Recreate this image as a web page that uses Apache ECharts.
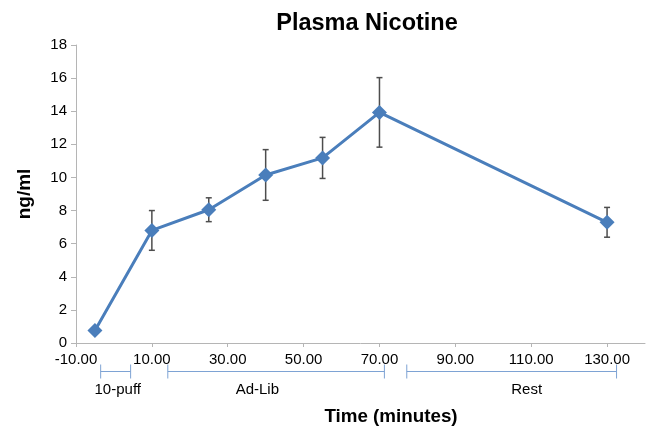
<!DOCTYPE html>
<html>
<head>
<meta charset="utf-8">
<script src="https://cdn.jsdelivr.net/npm/echarts@6/dist/echarts.min.js"></script>
<style>html,body{margin:0;padding:0;background:#fff;}#c{width:647px;height:427px;}</style>
</head>
<body>
<div id="c"></div>
<script>
// Data
const times = [-5, 10, 25, 40, 55, 70, 130];
const nicotine = [0.76, 6.8, 8.05, 10.15, 11.18, 13.93, 7.29];
const errors = [0, 1.2, 0.72, 1.53, 1.24, 2.1, 0.9];
const phaseNames = ['10-puff', 'Ad-Lib', 'Rest'];
const phaseStart = [-3.5, 14.2, 77.2];
const phaseEnd = [4.4, 71.3, 132.5];
const phaseLabelAt = [1, 37.8, 108.8];

const FONT = 'Liberation Sans, Arial, sans-serif';
const chart = echarts.init(document.getElementById('c'), null, {renderer: 'canvas'});

const lineData = times.map((t, i) => [t, nicotine[i]]);
const errData = times.map((t, i) => [t, nicotine[i] - errors[i], nicotine[i] + errors[i]]);
const phaseData = phaseNames.map((n, i) => [phaseStart[i], phaseEnd[i], phaseLabelAt[i], n]);

chart.setOption({
  animation: false,
  backgroundColor: '#fff',
  title: [
    {text: 'Plasma Nicotine', left: 362, top: 7, textAlign: 'center',
     textStyle: {fontFamily: FONT, fontWeight: 'bold', fontSize: 23.5, color: '#000'}},
    {text: 'Time (minutes)', left: 386, top: 402, textAlign: 'center',
     textStyle: {fontFamily: FONT, fontWeight: 'bold', fontSize: 18.8, color: '#000'}}
  ],
  grid: {left: 76, right: 2, top: 45, bottom: 84},
  xAxis: {
    type: 'value', min: -10, max: 140, interval: 20,
    axisLine: {onZero: false, lineStyle: {color: '#b5b5b5', width: 1}},
    axisTick: {show: true, inside: false, length: 4, lineStyle: {color: '#b5b5b5'}},
    splitLine: {show: false},
    axisLabel: {color: '#000', fontFamily: FONT, fontSize: 15, margin: 9, showMaxLabel: false,
      formatter: v => v.toFixed(2)}
  },
  yAxis: {
    type: 'value', min: 0, max: 18, interval: 2,
    name: 'ng/ml', nameLocation: 'middle', nameGap: 42, nameRotate: 90,
    nameTextStyle: {fontFamily: FONT, fontWeight: 'bold', fontSize: 19, color: '#000'},
    axisLine: {show: true, onZero: false, lineStyle: {color: '#b5b5b5', width: 1}},
    axisTick: {show: true, inside: false, length: 5, lineStyle: {color: '#b5b5b5'}},
    splitLine: {show: false},
    axisLabel: {color: '#000', fontFamily: FONT, fontSize: 15, margin: 9}
  },
  series: [
    {
      type: 'custom', z: 1, clip: false,
      data: errData,
      renderItem: function (params, api) {
        const x = api.value(0), lo = api.value(1), hi = api.value(2);
        const pHi = api.coord([x, hi]), pLo = api.coord([x, lo]);
        const w = 3;
        const st = {stroke: '#4d4d4d', lineWidth: 1.5};
        return {type: 'group', children: [
          {type: 'line', shape: {x1: pHi[0], y1: pHi[1], x2: pLo[0], y2: pLo[1]}, style: st},
          {type: 'line', shape: {x1: pHi[0] - w, y1: pHi[1], x2: pHi[0] + w, y2: pHi[1]}, style: st},
          {type: 'line', shape: {x1: pLo[0] - w, y1: pLo[1], x2: pLo[0] + w, y2: pLo[1]}, style: st}
        ]};
      }
    },
    {
      type: 'line', z: 3,
      data: lineData,
      symbol: 'diamond', symbolSize: 15,
      lineStyle: {color: '#4a7ebb', width: 3},
      itemStyle: {color: '#4a7ebb'}
    },
    {
      type: 'custom', z: 2, clip: false,
      data: phaseData,
      renderItem: function (params, api) {
        const a = api.coord([api.value(0), 0]);
        const b = api.coord([api.value(1), 0]);
        const l = api.coord([api.value(2), 0]);
        const y = a[1] + 28.5;
        const st = {stroke: '#7ea3d4', lineWidth: 1};
        return {type: 'group', children: [
          {type: 'line', shape: {x1: a[0], y1: y, x2: b[0], y2: y}, style: st},
          {type: 'line', shape: {x1: a[0], y1: y - 7, x2: a[0], y2: y + 7}, style: st},
          {type: 'line', shape: {x1: b[0], y1: y - 7, x2: b[0], y2: y + 7}, style: st},
          {type: 'text', style: {x: l[0], y: a[1] + 47, text: phaseData[params.dataIndex][3],
            textAlign: 'center', textVerticalAlign: 'middle', fill: '#000',
            font: '15px ' + FONT}}
        ]};
      }
    }
  ]
});
</script>
</body>
</html>
